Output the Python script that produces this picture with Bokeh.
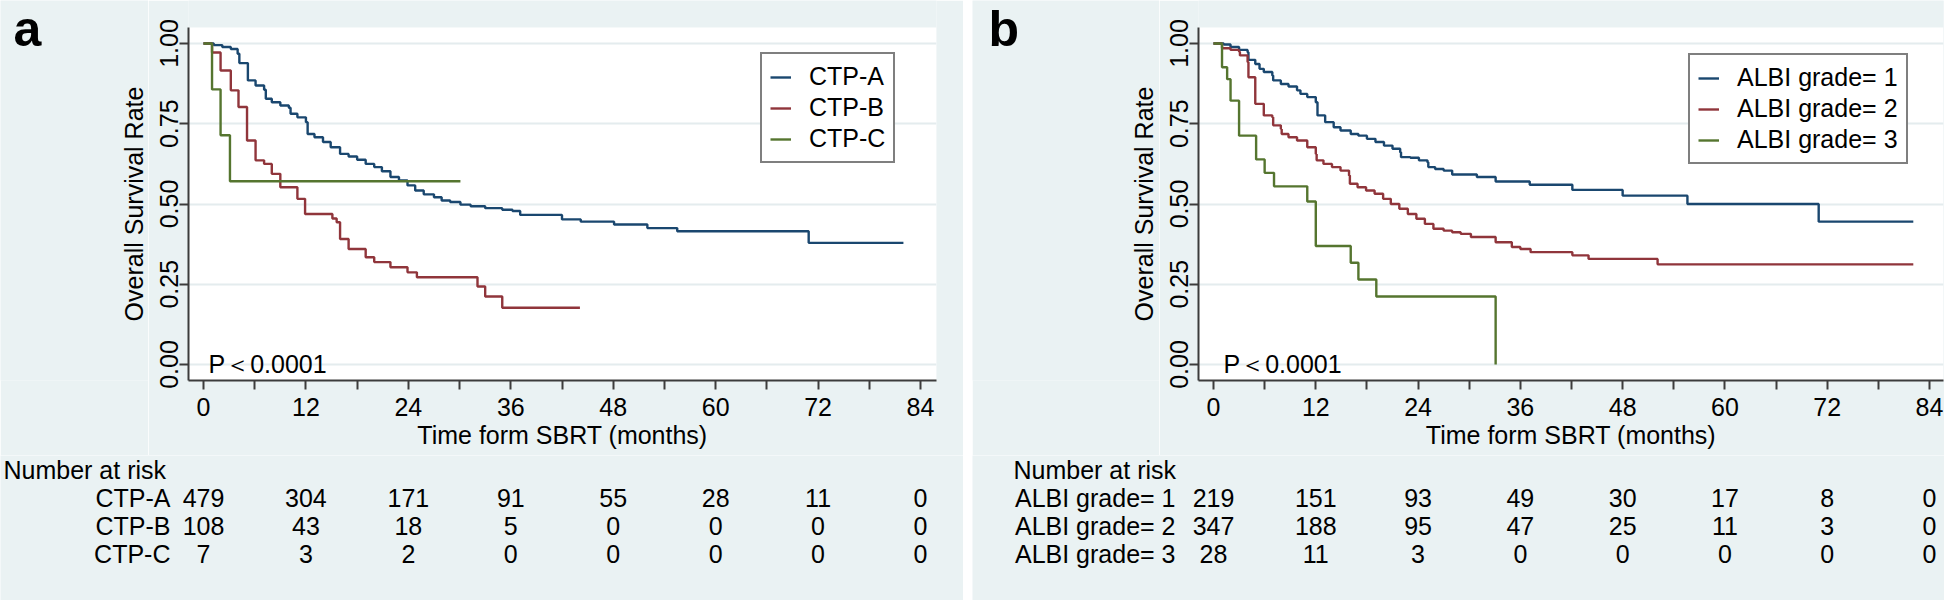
import math
from bokeh.plotting import figure
from bokeh.models import (Range1d, FixedTicker, NumeralTickFormatter, Legend,
                          LegendItem, Label, LabelSet, ColumnDataSource)
from bokeh.layouts import row, column
from bokeh.embed import file_html
from bokeh.resources import INLINE
from bokeh.core.properties import value

# ---------------- data ----------------
month_ticks = [0, 12, 24, 36, 48, 60, 72, 84]
month_minor = [6, 18, 30, 42, 54, 66, 78]
surv_ticks = [0.0, 0.25, 0.5, 0.75, 1.0]
x_title = "Time form SBRT (months)"
y_title = "Overall Survival Rate"
p_text = "P＜0.0001"

# panel a : Child-Turcotte-Pugh class
a_labels = ["CTP-A", "CTP-B", "CTP-C"]
a1_t = [0, 1.2, 2.2, 3.2, 4.0, 4.2, 5.2, 6.1, 7.1, 7.3, 8.0, 9.0, 10.0, 10.2, 11.0,
        12.0, 12.2, 13.0, 14.0, 14.9, 16.0, 17.0, 18.0, 19.0, 20.0, 20.9, 21.9, 22.9,
        23.9, 24.8, 25.8, 27.0, 27.9, 28.9, 30.1, 31.3, 33.0, 35.0, 36.2, 37.1, 42.0,
        44.2, 48.1, 52.0, 55.5, 70.9, 82.0]
a1_s = [1.0, 0.995, 0.989, 0.983, 0.968, 0.939, 0.885, 0.869, 0.856, 0.828, 0.817,
        0.807, 0.800, 0.781, 0.770, 0.755, 0.718, 0.708, 0.693, 0.677, 0.656, 0.648,
        0.638, 0.625, 0.615, 0.602, 0.584, 0.573, 0.558, 0.542, 0.530, 0.521, 0.511,
        0.506, 0.498, 0.493, 0.487, 0.482, 0.478, 0.466, 0.452, 0.445, 0.436, 0.425,
        0.415, 0.379, 0.379]
a2_t = [0, 1.0, 2.0, 3.2, 4.1, 5.1, 6.1, 7.1, 8.0, 9.0, 11.0, 11.9, 15.1, 15.6, 16.0,
        17.0, 19.0, 20.0, 21.9, 23.9, 25.0, 32.1, 33.0, 35.0, 44.1]
a2_s = [1.0, 0.972, 0.916, 0.854, 0.802, 0.698, 0.636, 0.625, 0.594, 0.552, 0.516,
        0.469, 0.455, 0.443, 0.391, 0.360, 0.334, 0.319, 0.303, 0.287, 0.272, 0.243,
        0.212, 0.177, 0.177]
a3_t = [0, 1.0, 2.0, 3.1, 30.1]
a3_s = [1.0, 0.857, 0.714, 0.571, 0.571]
a_risk_1 = [479, 304, 171, 91, 55, 28, 11, 0]
a_risk_2 = [108, 43, 18, 5, 0, 0, 0, 0]
a_risk_3 = [7, 3, 2, 0, 0, 0, 0, 0]

# panel b : ALBI grade
b_labels = ["ALBI grade= 1", "ALBI grade= 2", "ALBI grade= 3"]
b1_t = [0, 1.2, 2.0, 3.0, 4.0, 4.1, 4.9, 5.4, 5.9, 6.9, 7.0, 7.9, 8.8, 9.8, 10.2,
        11.0, 12.0, 12.2, 13.1, 14.1, 14.9, 16.1, 17.0, 18.0, 19.0, 20.0, 21.0, 21.9,
        22.0, 23.1, 24.1, 25.1, 25.2, 26.0, 27.0, 28.0, 30.9, 33.1, 37.1, 42.1, 48.0,
        55.6, 71.0, 82.1]
b1_s = [1.0, 0.997, 0.989, 0.980, 0.973, 0.949, 0.936, 0.921, 0.911, 0.900, 0.885,
        0.874, 0.866, 0.854, 0.843, 0.833, 0.817, 0.776, 0.755, 0.739, 0.729, 0.718,
        0.713, 0.703, 0.693, 0.682, 0.672, 0.661, 0.646, 0.644, 0.636, 0.630, 0.615,
        0.609, 0.604, 0.592, 0.584, 0.570, 0.560, 0.544, 0.526, 0.500, 0.445, 0.445]
b2_t = [0, 1.0, 2.0, 3.0, 3.1, 4.0, 4.1, 4.9, 5.9, 6.9, 7.0, 7.9, 8.0, 8.8, 9.8, 11.0,
        12.0, 12.1, 12.9, 13.9, 14.9, 15.9, 16.0, 16.9, 17.9, 18.9, 19.9, 20.8, 21.8,
        22.8, 23.8, 24.8, 25.8, 27.0, 28.0, 29.0, 30.2, 33.1, 35.0, 36.0, 37.2, 42.1,
        44.0, 52.1, 82.1]
b2_s = [1.0, 0.985, 0.980, 0.974, 0.963, 0.942, 0.895, 0.812, 0.776, 0.770, 0.745,
        0.734, 0.718, 0.708, 0.698, 0.677, 0.656, 0.636, 0.625, 0.615, 0.604, 0.589,
        0.563, 0.552, 0.542, 0.532, 0.516, 0.500, 0.485, 0.469, 0.454, 0.438, 0.423,
        0.417, 0.412, 0.407, 0.397, 0.381, 0.366, 0.360, 0.350, 0.340, 0.329, 0.312,
        0.312]
b3_t = [0, 1.0, 1.6, 2.0, 3.0, 5.0, 6.0, 7.1, 11.0, 12.0, 16.1, 17.0, 19.1, 33.1]
b3_s = [1.0, 0.926, 0.889, 0.822, 0.713, 0.639, 0.597, 0.555, 0.508, 0.369, 0.317,
        0.265, 0.212, 0.0]
b_risk_1 = [219, 151, 93, 49, 30, 17, 8, 0]
b_risk_2 = [347, 188, 95, 47, 25, 11, 3, 0]
b_risk_3 = [28, 11, 3, 0, 0, 0, 0, 0]

# ---------------- style / layout (page pixels, origin top-left) ----------------
COLORS = ["#1a476f", "#90353b", "#55752f"]
BG = "#eaf2f3"
AXC = "#3c3c3c"
FONT = "Liberation Sans"
FS = "25px"
LW = 2.4

PAGE_BOT = 600
SPLIT = 455                      # boundary between plot part and table part
FRAME_T, FRAME_B = 27, 380       # white plot region
Y0_PX, Y1_PX = 364, 43           # pixel rows of survival 0 and 1
PPU = Y0_PX - Y1_PX
NAR_BASE = 478
ROW_BASE = [506, 534, 562]


def ydat(py):
    return (Y0_PX - py) / PPU


def labels_on(fig, xs, ys, texts, align, x_off=0, size=FS, style="normal", angle=0.0):
    src = ColumnDataSource(dict(x=list(xs), y=list(ys), text=list(texts)))
    fig.add_layout(LabelSet(x="x", y="y", text="text", source=src,
                            x_offset=x_off, angle=angle, text_font=value(FONT),
                            text_font_size=value(size),
                            text_font_style=value(style), text_color="black",
                            text_align=align, text_baseline="alphabetic"))


def blank_fig(w, h, xr, yr, bottom=0):
    f = figure(width=w, height=h, x_range=xr, y_range=yr, title=None,
               min_border_left=0, min_border_right=0, min_border_top=0,
               min_border_bottom=bottom,
               x_axis_location=None, y_axis_location=None,
               output_backend="svg", toolbar_location=None)
    f.background_fill_color = BG
    f.border_fill_color = BG
    f.outline_line_color = None
    f.xgrid.visible = False
    f.ygrid.visible = False
    return f


def build(letter, labels, curves, risks, g):
    ppm = (g["x84"] - g["x0"]) / 84.0
    let_w = g["strip_w"]
    main_l = g["fig_l"] + let_w
    main_w = g["fig_w"] - let_w
    xs = (g["frame_l"] - g["x0"]) / ppm
    xe = (g["frame_r"] - g["x0"]) / ppm

    # ---- main survival plot (frame runs from the page top down to the x axis) ----
    p = figure(width=main_w, height=SPLIT, title=None,
               x_range=Range1d(xs, xe),
               y_range=Range1d(ydat(FRAME_B), ydat(0)),
               min_border_left=g["frame_l"] - main_l,
               min_border_right=main_l + main_w - g["frame_r"],
               min_border_top=0,
               min_border_bottom=SPLIT - FRAME_B,
               output_backend="svg", toolbar_location=None)
    p.background_fill_color = BG
    p.border_fill_color = BG
    p.outline_line_color = None
    p.quad(left=[xs], right=[xe], bottom=[ydat(FRAME_B)], top=[ydat(FRAME_T)],
           fill_color="white", line_color=None, level="image")
    p.xgrid.visible = False
    p.ygrid.grid_line_color = "#e4ecee"
    p.ygrid.grid_line_width = 2

    for ax in (p.xaxis[0], p.yaxis[0]):
        ax.axis_line_color = AXC
        ax.axis_line_width = 2
        ax.major_tick_line_color = AXC
        ax.major_tick_line_width = 2
        ax.major_tick_in = 0
        ax.major_tick_out = 9
        ax.major_label_text_font = FONT
        ax.major_label_text_font_size = FS
        ax.major_label_text_color = "black"
        ax.axis_label_text_font = FONT
        ax.axis_label_text_font_size = FS
        ax.axis_label_text_font_style = "normal"
        ax.axis_label_text_color = "black"

    xa = p.xaxis[0]
    xa.ticker = FixedTicker(ticks=month_ticks, minor_ticks=month_minor)
    xa.minor_tick_in = 0
    xa.minor_tick_out = 9
    xa.minor_tick_line_color = AXC
    xa.minor_tick_line_width = 2
    xa.major_label_standoff = 8
    xa.axis_label = x_title
    xa.axis_label_standoff = 2

    ya = p.yaxis[0]
    ya.ticker = FixedTicker(ticks=surv_ticks, minor_ticks=[])
    ya.formatter = NumeralTickFormatter(format="0.00")
    ya.bounds = (ydat(FRAME_B), ydat(FRAME_T))
    ya.major_label_orientation = "vertical"
    ya.minor_tick_line_color = None
    ya.major_label_standoff = 2

    items = []
    for (t, s), c, lab in zip(curves, COLORS, labels):
        r = p.step(t, s, mode="after", line_color=c, line_width=LW)
        items.append(LegendItem(label=lab, renderers=[r]))

    leg = Legend(items=items,
                 location=(g["leg_l"] - g["frame_l"], FRAME_B - g["leg_b"]),
                 label_text_font=FONT, label_text_font_size=FS,
                 label_text_color="black",
                 glyph_width=21, glyph_height=28, label_height=28,
                 label_standoff=18, padding=8, spacing=2, margin=0,
                 border_line_color="black", border_line_width=2,
                 background_fill_color="white", background_fill_alpha=1.0)
    p.add_layout(leg)

    p.add_layout(Label(x=0, y=ydat(363), x_offset=g["p_off"], text=p_text,
                       text_font=FONT, text_font_size=FS, text_color="black",
                       text_baseline="alphabetic", text_align="left"))

    # ---- left strip: panel letter and y-axis title (page pixel coordinates) ----
    lf = blank_fig(let_w, SPLIT, Range1d(g["fig_l"], main_l), Range1d(FRAME_B, 0),
                   bottom=SPLIT - FRAME_B)
    labels_on(lf, [g["letter_l"]], [45], [letter], "left", size="50px", style="bold")
    labels_on(lf, [g["frame_l"] - 46], [(FRAME_T + FRAME_B) / 2], [y_title], "center",
              angle=math.pi / 2)

    # ---- number-at-risk table (x in months, y in page pixels) ----
    tf = blank_fig(g["fig_w"], PAGE_BOT - SPLIT,
                   Range1d((g["fig_l"] - g["x0"]) / ppm,
                           (g["fig_l"] + g["fig_w"] - g["x0"]) / ppm),
                   Range1d(PAGE_BOT, SPLIT))
    labels_on(tf, [0], [NAR_BASE], ["Number at risk"], "left", x_off=-200)
    labels_on(tf, [0] * len(labels), ROW_BASE, labels, "right", x_off=g["row_off"])
    for risk, base in zip(risks, ROW_BASE):
        labels_on(tf, month_ticks, [base] * len(month_ticks),
                  [str(v) for v in risk], "center")

    return column(row(lf, p), tf)


geo_a = dict(fig_l=0, fig_w=963, strip_w=148, frame_l=188, frame_r=936, x0=203,
             x84=920, leg_l=760, leg_b=163, p_off=5, letter_l=13, row_off=-33)
geo_b = dict(fig_l=972, fig_w=972, strip_w=187, frame_l=1198, frame_r=1943, x0=1213,
             x84=1929, leg_l=1688, leg_b=164, p_off=10, letter_l=988, row_off=-38)

pa = build("a", a_labels, [(a1_t, a1_s), (a2_t, a2_s), (a3_t, a3_s)],
           [a_risk_1, a_risk_2, a_risk_3], geo_a)
pb = build("b", b_labels, [(b1_t, b1_s), (b2_t, b2_s), (b3_t, b3_s)],
           [b_risk_1, b_risk_2, b_risk_3], geo_b)

layout = row(pa, pb, spacing=9)
open("out.html", "w").write(file_html(layout, INLINE))
